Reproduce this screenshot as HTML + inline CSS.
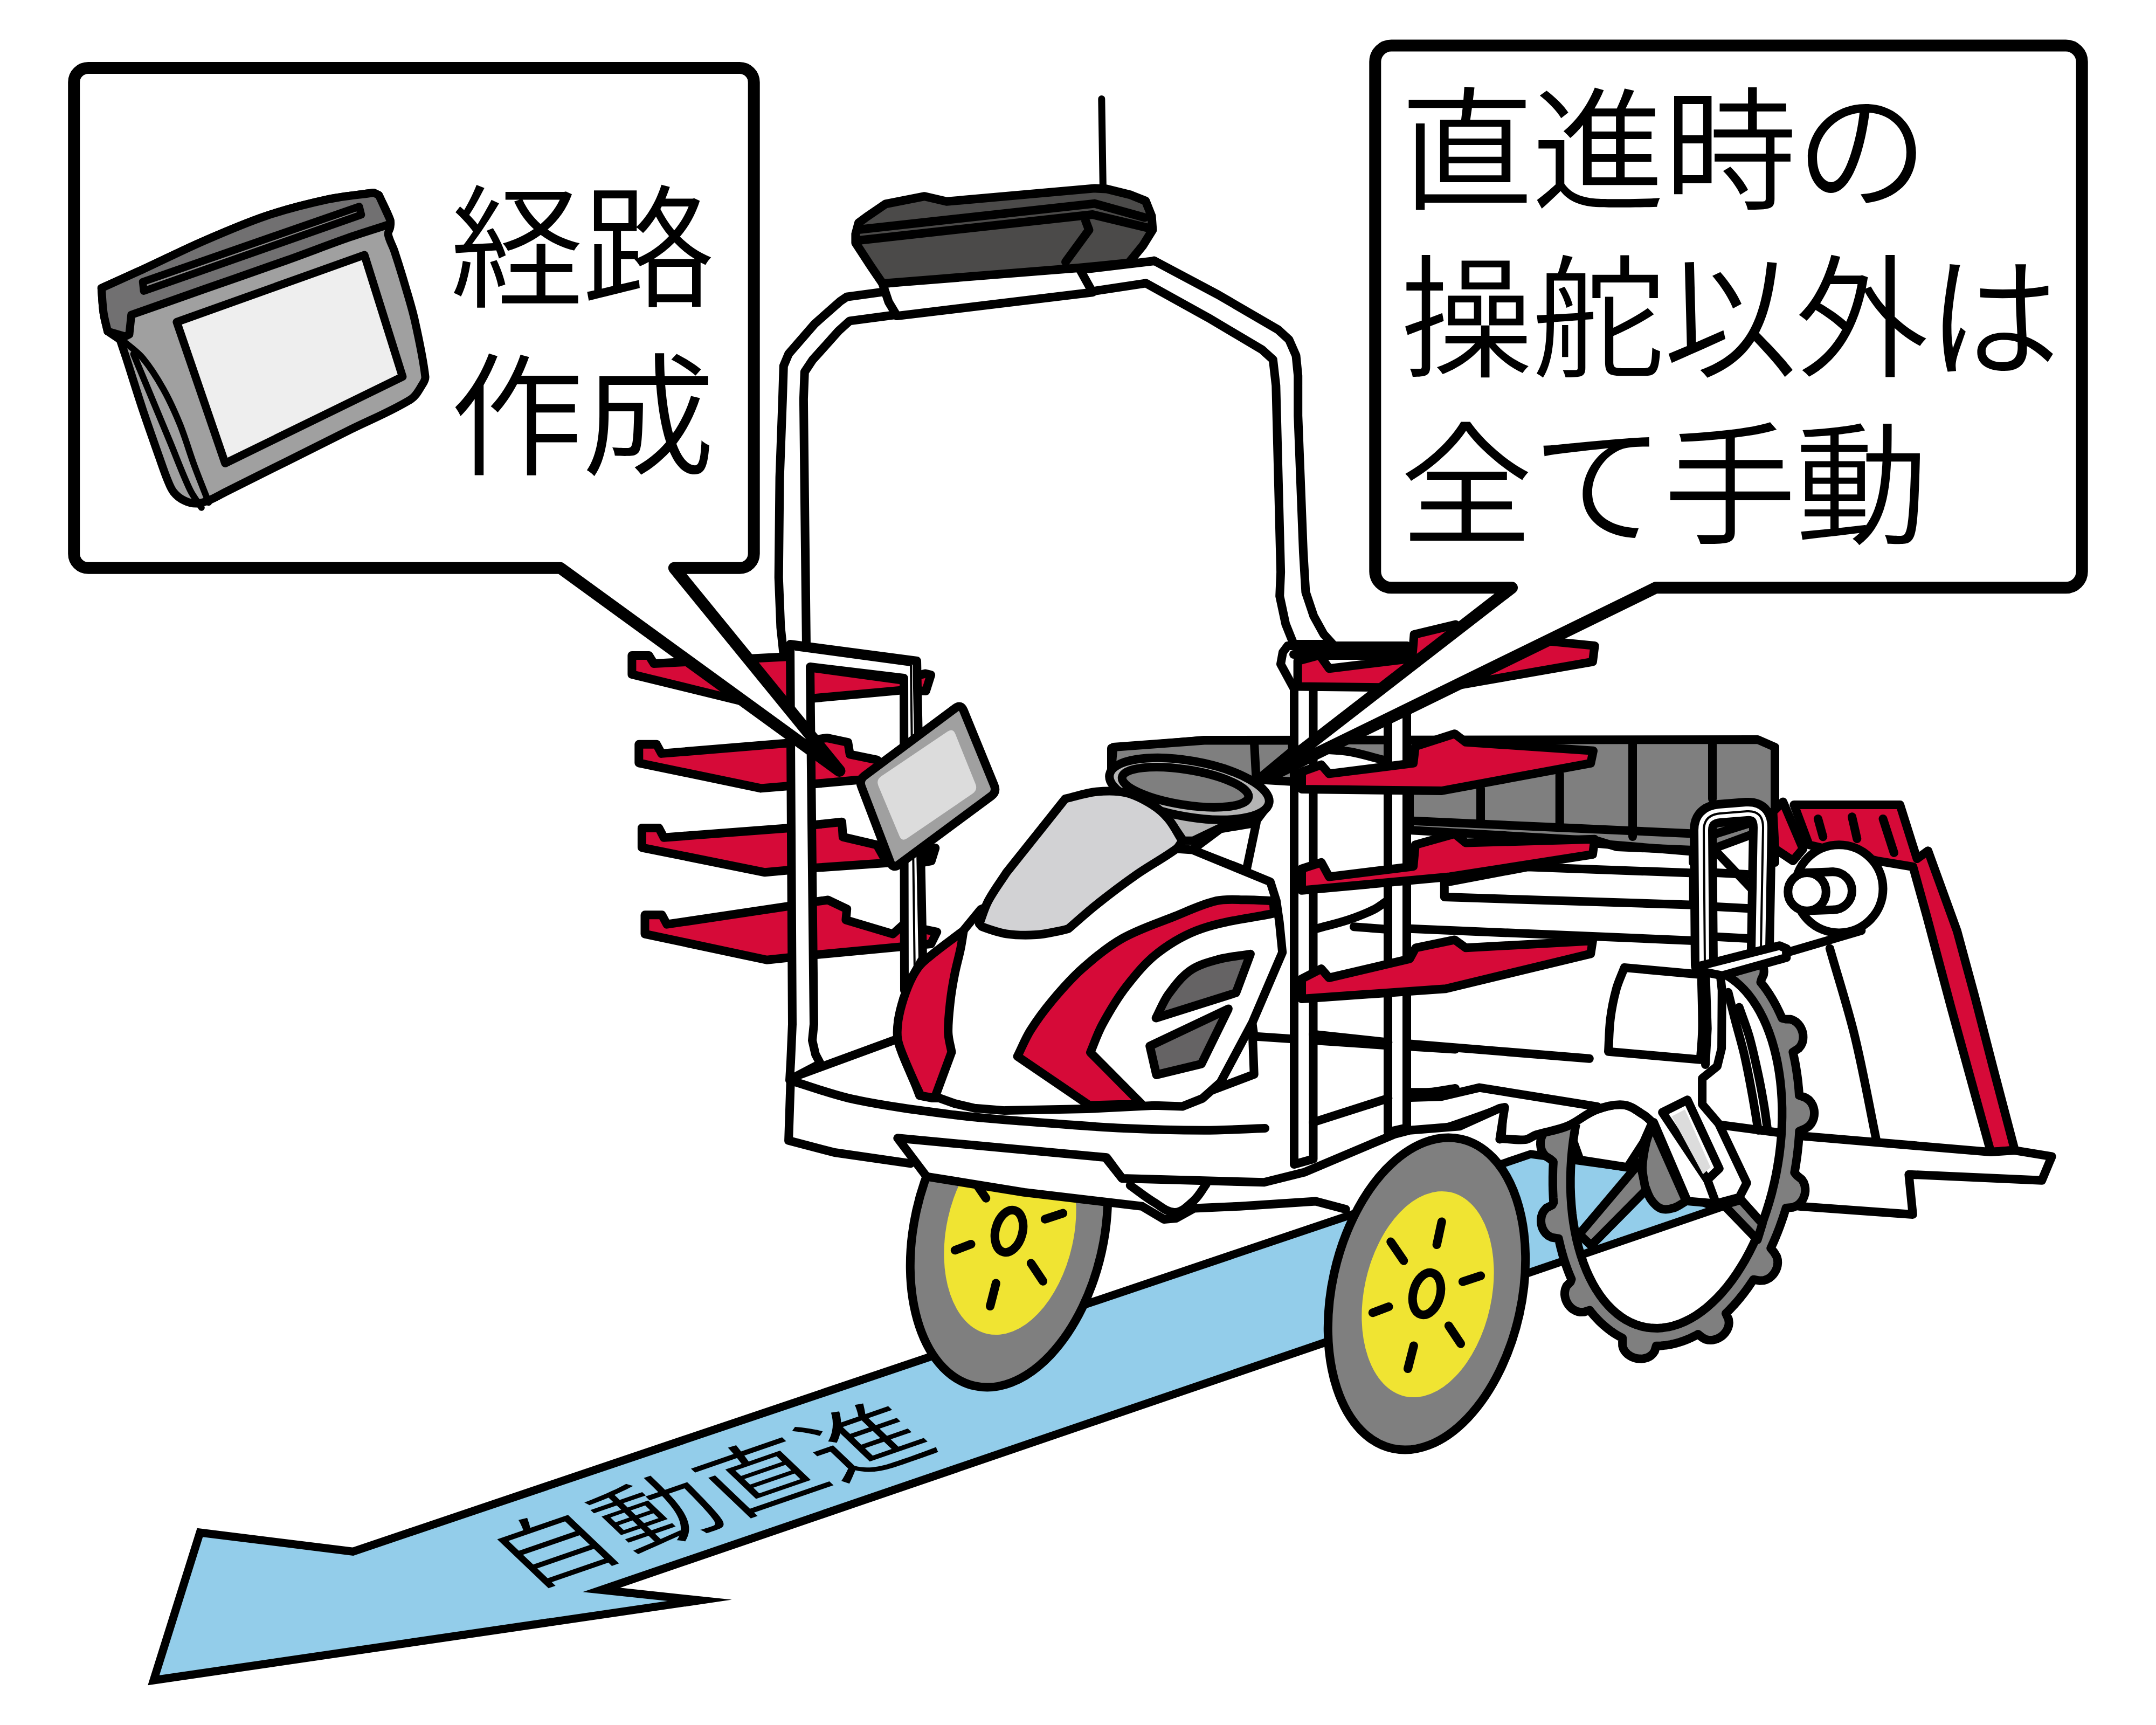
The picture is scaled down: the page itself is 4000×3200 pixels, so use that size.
<!DOCTYPE html>
<html lang="ja"><head><meta charset="utf-8"><title>自動直進</title>
<style>
html,body{margin:0;padding:0;background:#fff;}
svg{display:block;}
text{font-family:"Liberation Sans","Noto Sans CJK JP",sans-serif;fill:#000;}
</style></head><body>
<svg xmlns="http://www.w3.org/2000/svg" width="4000" height="3200" viewBox="0 0 4000 3200">
<rect width="4000" height="3200" fill="#fff"/>
<g id="arrow">
<path d="M285,3117 L371,2843 L654.7,2878.3 L2840,2141 L3019,2165.5 L3185,2242 L1115.7,2949.3 L1298,2968.7 Z" fill="#93cdea" stroke="#000" stroke-width="15" stroke-linejoin="miter" stroke-miterlimit="20"/>
<text transform="matrix(0.934 -0.322 0.593 0.566 976 2948)" font-size="206" font-weight="350" x="0" y="0">自動直進</text>
</g>
<g id="tray">
<path d="M2062,1388 L2234,1373 L3261,1372 L3293,1386 L3293,1600 L3141,1600 L3141,1577 L3000,1571 L2964,1560 L2615,1540 L2615,1450 L2400,1450 L2062,1430Z" fill="#7f7f7f" stroke="#000" stroke-width="16" stroke-linecap="round" stroke-linejoin="round" />
<path d="M2747,1463 L2747,1523" fill="none" stroke="#000" stroke-width="16" stroke-linecap="round" stroke-linejoin="round" />
<path d="M2893.7,1437 L2893.7,1530" fill="none" stroke="#000" stroke-width="16" stroke-linecap="round" stroke-linejoin="round" />
<path d="M3029,1378 L3029,1552" fill="none" stroke="#000" stroke-width="16" stroke-linecap="round" stroke-linejoin="round" />
<path d="M3177,1381 L3177,1482" fill="none" stroke="#000" stroke-width="16" stroke-linecap="round" stroke-linejoin="round" />
<path d="M2609.3,1522.3 L3141.7,1546.4" fill="none" stroke="#000" stroke-width="16" stroke-linecap="round" stroke-linejoin="round" />
<path d="M2963.6,1564.9 L3141.7,1579.8" fill="none" stroke="#000" stroke-width="16" stroke-linecap="round" stroke-linejoin="round" />
</g>
<g id="planter">
<path d="M3289.4,1505.9 L3308,1487.4 L3345.1,1574.6 L3326.5,1596.8 L3293.1,1574.6Z" fill="#d60a38" stroke="#000" stroke-width="16" stroke-linecap="round" stroke-linejoin="round" />
<path d="M3290,1790 L3330,1640 L3549,1608 L3619.3,1867 L3693.5,2137.1 L3482,2119.3 L3322.4,2104.5 L3250,2090Z" fill="#fff" stroke="none" stroke-width="0" stroke-linecap="round" stroke-linejoin="round" />
<path d="M3394.8,1759.4 C3410.3,1813.8 3427.9,1867.6 3441.2,1922.6 C3457,1987.7 3468.4,2053.7 3482,2119.3" fill="none" stroke="#000" stroke-width="16" stroke-linecap="round" stroke-linejoin="round" />
<path d="M3328.4,1492.9 L3525,1492.9 L3556.6,1593.1 L3577,1578.3 L3630.8,1726.7 L3663.8,1848.4 L3697.2,1978.3 L3738,2133.4 L3693.5,2137.1 L3619.3,1867 L3574.8,1700 L3549.2,1608 L3482.4,1596.8 L3356.2,1567.2Z" fill="#d60a38" stroke="#000" stroke-width="16" stroke-linecap="round" stroke-linejoin="round" />
<path d="M3372.9,1518.9 L3382.2,1552.3" fill="none" stroke="#000" stroke-width="16" stroke-linecap="round" stroke-linejoin="round" />
<path d="M3436,1515.2 L3445.3,1556" fill="none" stroke="#000" stroke-width="16" stroke-linecap="round" stroke-linejoin="round" />
<path d="M3493.5,1518.9 L3513.9,1582" fill="none" stroke="#000" stroke-width="16" stroke-linecap="round" stroke-linejoin="round" />
<path d="M3311.3,2104.5 L3329.9,2106.3 L3693.5,2137.1 L3738,2134.1 L3806.7,2145.3 L3788.1,2189.8 L3541.4,2178.7 L3548.8,2252.9 L3341,2238 L3311.3,2234.3Z" fill="#fff" stroke="#000" stroke-width="16" stroke-linecap="round" stroke-linejoin="round" />
<path d="M3186,2086 L3322,2104" fill="none" stroke="#000" stroke-width="16" stroke-linecap="round" stroke-linejoin="round" />
<ellipse cx="3411.9" cy="1648.8" rx="81.6" ry="81.6" transform="rotate(0 3411.9 1648.8)" fill="#fff" stroke="#000" stroke-width="16"/>
<ellipse cx="3400.7" cy="1652.5" rx="35.3" ry="35.3" transform="rotate(0 3400.7 1652.5)" fill="#fff" stroke="#000" stroke-width="16"/>
<path d="M3352.5,1619.1 L3400.7,1617.3 L3400.7,1687.8 L3352.5,1689.6Z" fill="#fff" stroke="none" stroke-width="0" stroke-linecap="round" stroke-linejoin="round" />
<path d="M3352.5,1619.1 L3400.7,1617.3" fill="none" stroke="#000" stroke-width="16" stroke-linecap="round" stroke-linejoin="round" />
<path d="M3352.5,1689.6 L3400.7,1687.8" fill="none" stroke="#000" stroke-width="16" stroke-linecap="round" stroke-linejoin="round" />
<ellipse cx="3352.5" cy="1654.4" rx="35.3" ry="35.3" transform="rotate(0 3352.5 1654.4)" fill="#fff" stroke="#000" stroke-width="16"/>
<path d="M3293.1,1574.6 L3326.5,1596.8 L3345.1,1574.6" fill="none" stroke="#000" stroke-width="16" stroke-linecap="round" stroke-linejoin="round" />
</g>
<g id="cagewheel">
<path d="M2850,2105.2 C2869.3,2099.8 2889.5,2096.7 2908,2089 C2926.8,2081.1 2942.2,2066.1 2961.3,2058.8 C2977.5,2052.7 2995.1,2047.8 3012.3,2049.6 C3026.1,2051 3037.6,2060.9 3049.4,2068.1 C3055.5,2071.8 3060.3,2077.4 3065.7,2082 L3049.4,2119.1 L3019.3,2165.5 L2931.2,2151.6 L2919.6,2119.1 L2850,2105.2Z" fill="#fff" stroke="#000" stroke-width="16" stroke-linecap="round" stroke-linejoin="round" />
<path d="M3331,2165.6 L3331.8,2160.8 L3332.5,2156 L3333.2,2151.2 L3333.9,2146.4 L3334.5,2141.6 L3335.1,2136.8 L3335.6,2131.9 L3336.1,2127.1 L3336.6,2122.3 L3337,2117.5 L3337.4,2112.7 L3337.8,2107.9 L3338.1,2103.1 L3338.3,2098.3 L3348.9,2093.9 L3356,2089.3 L3360.2,2084.5 L3363,2079.6 L3364.8,2074.7 L3365.8,2069.7 L3366.1,2064.7 L3365.8,2059.8 L3364.7,2054.9 L3362.9,2050 L3360.1,2045.2 L3356.1,2040.5 L3349.4,2036 L3338,2032 L3337.7,2027.3 L3337.4,2022.7 L3337,2018.1 L3336.5,2013.5 L3336.1,2009 L3335.6,2004.4 L3335,1999.9 L3334.4,1995.4 L3333.8,1991 L3333.1,1986.5 L3332.4,1982.1 L3331.7,1977.7 L3330.9,1973.3 L3330.1,1968.9 L3329.2,1964.6 L3328.3,1960.3 L3327.4,1956.1 L3326.4,1951.8 L3337.2,1944.8 L3341.6,1939.1 L3343.9,1933.9 L3345.1,1928.9 L3345.4,1924.1 L3345.2,1919.5 L3344.4,1915.1 L3343,1910.8 L3341.2,1906.8 L3338.9,1902.9 L3336,1899.3 L3332.4,1896 L3328,1893.1 L3322.2,1890.8 L3312.3,1890.4 L3306.1,1888.7 L3304.5,1885.1 L3302.9,1881.5 L3301.3,1877.9 L3299.6,1874.4 L3297.9,1871 L3296.2,1867.6 L3294.4,1864.2 L3292.6,1860.9 L3290.8,1857.6 L3288.9,1854.4 L3287,1851.2 L3285.1,1848.1 L3283.2,1845 L3281.2,1842 L3279.2,1839 L3277.1,1836 L3275.1,1833.1 L3273,1830.3 L3270.8,1827.5 L3268.7,1824.8 L3266.5,1822.1 L3268.2,1816.2 L3272,1808.2 L3272.7,1802.6 L3272.4,1797.9 L3271.4,1793.7 L3270,1790 L3268.2,1786.5 L3266.1,1783.3 L3263.6,1780.4 L3261,1777.8 L3258.1,1775.5 L3255,1773.5 L3251.7,1771.8 L3248.2,1770.4 L3244.5,1769.3 L3240.6,1768.8 L3236.4,1768.7 L3231.9,1769.4 L3226.8,1771.3 L3219.5,1777.2 L3215.2,1778.6 L3212.5,1777.2 L3209.9,1775.8 L3207.1,1774.5 L3204.4,1773.2 L3201.7,1772 L3198.9,1770.9 L3196.1,1769.8 L3193.4,1768.8 L3190.6,1767.9 L3187.7,1767 L3184.9,1766.2 L3182.1,1765.4 L3179.2,1764.7 L3176.4,1764.1 L3173.5,1763.5 L3170.6,1763 L3167.7,1762.5 L3164.8,1762.1 L3161.9,1761.8 L3158.9,1761.6 L3156,1761.4 L3153.1,1761.2 L3150.1,1761.2 L3147.2,1761.2 L3144.2,1761.2 L3141.2,1761.3 L3138.3,1761.5 L3134.4,1752.8 L3130.7,1747.8 L3126.9,1744.7 L3123.2,1742.6 L3119.4,1741.2 L3115.7,1740.4 L3112,1739.9 L3108.3,1739.9 L3104.6,1740.2 L3101.1,1740.8 L3097.6,1741.8 L3094.2,1743.2 L3090.9,1744.8 L3087.7,1746.9 L3084.7,1749.3 L3081.9,1752.1 L3079.4,1755.5 L3077.3,1759.6 L3075.8,1764.8 L3075.9,1773 L3075.5,1779.7 L3072.5,1781.3 L3069.6,1782.9 L3066.6,1784.5 L3063.7,1786.3 L3060.7,1788 L3057.8,1789.9 L3054.9,1791.8 L3052,1793.7 L3049.1,1795.7 L3046.2,1797.8 L3043.3,1799.9 L3040.5,1802.1 L3037.6,1804.3 L3034.8,1806.6 L3031.9,1809 L3029.1,1811.4 L3026.3,1813.8 L3023.5,1816.3 L3020.8,1818.9 L3018,1821.5 L3015.3,1824.2 L3012.6,1826.9 L3004,1824 L2996.1,1822.1 L2990.3,1822.4 L2985.4,1823.6 L2981,1825.4 L2977.1,1827.7 L2973.6,1830.4 L2970.5,1833.5 L2967.8,1836.9 L2965.5,1840.7 L2963.6,1844.8 L2962.2,1849.3 L2961.5,1854.2 L2961.7,1859.8 L2963.4,1866.3 L2971.6,1877.2 L2969.2,1880.7 L2966.8,1884.3 L2964.5,1887.9 L2962.2,1891.5 L2959.9,1895.2 L2957.7,1899 L2955.4,1902.7 L2953.2,1906.6 L2951.1,1910.4 L2948.9,1914.3 L2946.8,1918.2 L2944.7,1922.2 L2942.6,1926.2 L2940.6,1930.2 L2938.6,1934.3 L2936.6,1938.4 L2934.7,1942.5 L2932.8,1946.7 L2925.2,1948.4 L2915,1949 L2908.8,1951.6 L2904.2,1954.9 L2900.4,1958.6 L2897.4,1962.7 L2895.1,1967.1 L2893.3,1971.7 L2892.2,1976.5 L2891.8,1981.6 L2892.2,1987 L2893.7,1992.7 L2896.9,1998.9 L2907.3,2007.4 L2907.8,2012.5 L2906.4,2017.1 L2905.1,2021.7 L2903.8,2026.3 L2902.5,2031 L2901.2,2035.6 L2900,2040.3 L2898.8,2045 L2897.7,2049.6 L2896.6,2054.4 L2895.5,2059.1 L2894.4,2063.8 L2893.4,2068.6 L2892.5,2073.3 L2891.6,2078.1 L2890.7,2082.8 L2889.8,2087.6 L2877.9,2090.6 L2870.7,2094.4 L2866,2098.8 L2862.8,2103.4 L2860.5,2108.2 L2858.9,2113.1 L2858.1,2118.1 L2858,2123.2 L2858.6,2128.3 L2860.1,2133.5 L2862.7,2138.8 L2866.8,2144.1 L2875.3,2149.6 L2881.9,2154.9 L2881.7,2159.7 L2881.4,2164.5 L2881.2,2169.3 L2881.1,2174.1 L2881,2178.9 L2880.9,2183.6 L2880.9,2188.4 L2880.9,2193.1 L2880.9,2197.9 L2881,2202.6 L2881.1,2207.3 L2881.3,2212 L2881.5,2216.7 L2881.7,2221.4 L2882,2226 L2882.3,2230.7 L2879.7,2235.5 L2868.7,2241.2 L2864.2,2246.4 L2861.5,2251.4 L2859.9,2256.4 L2859.1,2261.3 L2859,2266.2 L2859.5,2270.9 L2860.6,2275.5 L2862.4,2280 L2864.9,2284.4 L2868.1,2288.5 L2872.6,2292.4 L2879.2,2295.7 L2891.7,2297.7 L2892.6,2301.9 L2893.6,2306.2 L2894.6,2310.4 L2895.6,2314.5 L2896.7,2318.7 L2897.8,2322.8 L2898.9,2326.9 L2900.1,2330.9 L2901.3,2334.9 L2902.6,2338.9 L2903.9,2342.8 L2905.2,2346.7 L2906.6,2350.6 L2908,2354.4 L2909.4,2358.2 L2910.9,2361.9 L2912.4,2365.7 L2913.9,2369.3 L2915.5,2372.9 L2913.7,2378.1 L2906.4,2385.8 L2904,2391.5 L2903.1,2396.5 L2902.9,2401.2 L2903.5,2405.6 L2904.5,2409.7 L2905.9,2413.6 L2907.8,2417.2 L2910,2420.7 L2912.6,2423.8 L2915.5,2426.7 L2918.9,2429.2 L2922.7,2431.4 L2927,2433.1 L2932.2,2434.1 L2938.9,2433.8 L2949.2,2430.5 L2951.3,2433.2 L2953.5,2435.9 L2955.7,2438.5 L2957.9,2441.1 L2960.2,2443.6 L2962.5,2446.1 L2964.8,2448.5 L2967.1,2450.9 L2969.4,2453.2 L2971.8,2455.4 L2974.2,2457.6 L2976.7,2459.7 L2979.1,2461.8 L2981.6,2463.8 L2984.1,2465.8 L2986.6,2467.7 L2989.1,2469.6 L2991.7,2471.3 L2994.3,2473.1 L2996.9,2474.8 L2999.5,2476.4 L3002.1,2477.9 L3004.8,2479.4 L3007.5,2480.8 L3010.1,2482.2 L3010.1,2489.3 L3010.2,2496.7 L3011.7,2501.6 L3013.8,2505.5 L3016.2,2508.7 L3018.9,2511.4 L3021.8,2513.7 L3024.8,2515.7 L3028,2517.3 L3031.3,2518.6 L3034.6,2519.6 L3038.1,2520.3 L3041.6,2520.6 L3045.2,2520.7 L3048.7,2520.4 L3052.3,2519.7 L3055.9,2518.6 L3059.5,2517 L3063,2514.7 L3066.4,2511.5 L3069.8,2506.6 L3072.8,2496.8 L3075.8,2496.8 L3078.8,2496.7 L3081.7,2496.5 L3084.7,2496.2 L3087.7,2495.9 L3090.7,2495.6 L3093.7,2495.1 L3096.7,2494.6 L3099.7,2494.1 L3102.7,2493.4 L3105.7,2492.8 L3108.7,2492 L3111.7,2491.2 L3114.7,2490.3 L3117.7,2489.4 L3120.7,2488.4 L3123.7,2487.4 L3126.7,2486.2 L3129.6,2485.1 L3132.6,2483.8 L3135.6,2482.5 L3138.6,2481.2 L3141.6,2479.7 L3144.5,2478.3 L3147.5,2476.7 L3150.4,2475.1 L3157.8,2481 L3163.9,2484.5 L3169,2485.8 L3173.7,2486.1 L3178,2485.7 L3182,2484.8 L3185.9,2483.5 L3189.5,2481.8 L3192.9,2479.7 L3196,2477.2 L3198.9,2474.4 L3201.5,2471.3 L3203.8,2467.7 L3205.7,2463.8 L3207.1,2459.3 L3207.8,2454 L3207,2447.4 L3202,2436.5 L3204.7,2433.8 L3207.4,2431.1 L3210.2,2428.3 L3212.8,2425.5 L3215.5,2422.6 L3218.2,2419.7 L3220.8,2416.7 L3223.4,2413.7 L3226,2410.6 L3228.6,2407.5 L3231.1,2404.3 L3233.7,2401.1 L3236.2,2397.8 L3238.7,2394.5 L3241.2,2391.2 L3243.6,2387.8 L3246,2384.3 L3248.4,2380.8 L3250.8,2377.3 L3253.2,2373.7 L3264.2,2375.7 L3272,2375.3 L3277.7,2373.5 L3282.4,2371 L3286.3,2367.9 L3289.6,2364.5 L3292.4,2360.7 L3294.7,2356.6 L3296.5,2352.2 L3297.7,2347.5 L3298.2,2342.4 L3297.9,2337 L3296.2,2330.9 L3291.8,2323.6 L3285.3,2315.5 L3287.2,2311.3 L3289.1,2307.1 L3291,2302.9 L3292.8,2298.6 L3294.6,2294.3 L3296.4,2290 L3298.1,2285.7 L3299.8,2281.3 L3301.5,2276.9 L3303.1,2272.5 L3304.7,2268 L3306.2,2263.6 L3307.8,2259.1 L3309.3,2254.6 L3310.7,2250 L3312.2,2245.5 L3313.6,2240.9 L3326.5,2239.7 L3333.7,2236.6 L3338.7,2232.8 L3342.4,2228.6 L3345.2,2224.2 L3347.2,2219.5 L3348.6,2214.6 L3349.3,2209.6 L3349.2,2204.4 L3348.3,2199.1 L3346.4,2193.5 L3342.7,2187.7 L3334.2,2181 L3329.3,2175.2 L3330.2,2170.4Z M3298.4,2160.2 L3301.1,2142.7 L3303.2,2125.2 L3304.8,2107.6 L3305.8,2090.2 L3306.3,2072.8 L3306.3,2055.6 L3305.7,2038.6 L3304.6,2021.9 L3303,2005.4 L3300.8,1989.3 L3298.1,1973.5 L3294.9,1958.2 L3291.2,1943.4 L3287,1929.1 L3282.3,1915.3 L3277.1,1902.1 L3271.5,1889.5 L3265.4,1877.6 L3258.9,1866.3 L3252,1855.8 L3244.7,1846 L3237.1,1837.1 L3229.1,1828.9 L3220.7,1821.5 L3212.1,1815 L3203.2,1809.3 L3194,1804.5 L3184.6,1800.6 L3175,1797.6 L3165.2,1795.5 L3155.3,1794.4 L3145.2,1794.1 L3135,1794.8 L3124.8,1796.3 L3114.6,1798.8 L3104.3,1802.2 L3094,1806.5 L3083.8,1811.7 L3073.6,1817.7 L3063.6,1824.6 L3053.7,1832.3 L3043.9,1840.9 L3034.3,1850.2 L3024.9,1860.3 L3015.8,1871.1 L3006.9,1882.7 L2998.3,1894.9 L2990,1907.8 L2982,1921.2 L2974.4,1935.3 L2967.2,1949.8 L2960.3,1964.9 L2953.9,1980.4 L2947.8,1996.3 L2942.3,2012.6 L2937.2,2029.2 L2932.5,2046 L2928.4,2063.1 L2924.7,2080.4 L2921.6,2097.8 L2918.9,2115.3 L2916.8,2132.8 L2915.2,2150.4 L2914.2,2167.8 L2913.7,2185.2 L2913.7,2202.4 L2914.3,2219.4 L2915.4,2236.1 L2917,2252.6 L2919.2,2268.7 L2921.9,2284.5 L2925.1,2299.8 L2928.8,2314.6 L2933,2328.9 L2937.7,2342.7 L2942.9,2355.9 L2948.5,2368.5 L2954.6,2380.4 L2961.1,2391.7 L2968,2402.2 L2975.3,2412 L2982.9,2420.9 L2990.9,2429.1 L2999.3,2436.5 L3007.9,2443 L3016.8,2448.7 L3026,2453.5 L3035.4,2457.4 L3045,2460.4 L3054.8,2462.5 L3064.7,2463.6 L3074.8,2463.9 L3085,2463.2 L3095.2,2461.7 L3105.4,2459.2 L3115.7,2455.8 L3126,2451.5 L3136.2,2446.3 L3146.4,2440.3 L3156.4,2433.4 L3166.3,2425.7 L3176.1,2417.1 L3185.7,2407.8 L3195.1,2397.7 L3204.2,2386.9 L3213.1,2375.3 L3221.7,2363.1 L3230,2350.2 L3238,2336.8 L3245.6,2322.7 L3252.8,2308.2 L3259.7,2293.1 L3266.1,2277.6 L3272.2,2261.7 L3277.7,2245.4 L3282.8,2228.8 L3287.5,2212 L3291.6,2194.9 L3295.3,2177.6Z" fill="#7f7f7f" fill-rule="evenodd" stroke="#000" stroke-width="16" stroke-linejoin="round"/>
<path d="M3206.3,1840.8 C3210.6,1858.1 3214.8,1875.5 3219.3,1892.8 C3224.7,1913.8 3231.1,1934.6 3236,1955.8 C3241.6,1980.4 3246.3,2005.2 3250.8,2030.1 C3254.9,2052.3 3258.3,2074.6 3262,2096.8" fill="none" stroke="#000" stroke-width="16" stroke-linecap="round" stroke-linejoin="round" />
<path d="M3226.7,1868.6 C3232.9,1886.6 3240.1,1904.2 3245.3,1922.4 C3251.9,1945.7 3256.9,1969.3 3262,1992.9 C3266.2,2012.6 3269.8,2032.5 3273.1,2052.3 C3275.6,2067.1 3277.3,2082 3279.4,2096.8" fill="none" stroke="#000" stroke-width="16" stroke-linecap="round" stroke-linejoin="round" />
<path d="M3042.5,2156.3 L3054.1,2207.3 L2952,2310.5 L2930,2289.6Z" fill="#7f7f7f" stroke="#000" stroke-width="16" stroke-linecap="round" stroke-linejoin="round" />
<path d="M3197.9,2235.1 L3230.3,2225.8 L3269.8,2269.9 L3260.5,2300Z" fill="#7f7f7f" stroke="#000" stroke-width="16" stroke-linecap="round" stroke-linejoin="round" />
</g>
<g id="rollbar">
<path d="M1496,1224 L1455,1224 L1454,1215.8 L1448.4,1163.8 L1444.7,1071.1 L1446.6,885.5 L1451.9,740.1 L1453.8,678.8 L1463.1,656.6 L1511.3,600.9 L1559.6,558.3 L1570.7,550.8 L1637.5,541.6 L2027.1,497.8 L2142.1,484 L2141,483.5 L2259.7,546.6 L2371.1,611.5 L2391.5,630.1 L2404.5,659.7 L2408.2,696.8 L2408.2,771.1 L2418,1024.2 L2422.4,1098.4 L2437.3,1142.9 L2455.8,1176.3 L2472.5,1194.9 L2400.2,1194.9 L2385.3,1157.8 L2374.2,1105.8 L2376.1,1061.3 L2367.3,715.4 L2361.8,667.2 L2341.4,648.6 L2241.2,589.2 L2126.2,525.4 L2027.1,540.4 L1659.7,584.2 L1576.3,595.4 L1555.8,613.9 L1507.6,667.7 L1492.8,690 L1490.9,740.1 L1492.9,922.6 L1495.9,1189.8 L1496,1224Z" fill="#fff" stroke="#000" stroke-width="16" stroke-linecap="round" stroke-linejoin="round" />
</g>
<g id="gps">
<path d="M2043.8,183.5 L2046.4,348.6" fill="none" stroke="#000" stroke-width="13" stroke-linecap="round" stroke-linejoin="round" />
<path d="M1637.5,526.7 L1993.7,482.2 L2027.1,542.3 L1664.2,586.1 L1648.6,560.1Z" fill="#fff" stroke="#000" stroke-width="16" stroke-linecap="round" stroke-linejoin="round" />
<path d="M1587.4,434 L1592.9,413.5 L1607.8,402.4 L1643,378.3 L1715.4,364.2 L1756.2,373.8 L2030.8,349.4 L2053.1,350.5 L2097.6,361.6 L2125.4,372.7 L2136.5,400.6 L2138.4,426.5 L2119.9,456.2 L2093.9,487.8 L2001.1,497 L1637.5,526 L1615.2,493.3 L1587.4,450.6Z" fill="#4b4a49" stroke="#000" stroke-width="16" stroke-linecap="round" stroke-linejoin="round" />
<path d="M1594.8,425.8 L2030.8,377.6 L2123.6,403.5" fill="none" stroke="#000" stroke-width="16" stroke-linecap="round" stroke-linejoin="round" />
<path d="M1594.8,445.8 L2027.1,398 L2127.3,422.1" fill="none" stroke="#000" stroke-width="16" stroke-linecap="round" stroke-linejoin="round" />
<path d="M2014.1,409.8 L2020.4,426.5 L1977,485.9" fill="none" stroke="#000" stroke-width="16" stroke-linecap="round" stroke-linejoin="round" />
</g>
<g id="lwheel">
<ellipse cx="1872" cy="2284" rx="176" ry="294" transform="rotate(12.5 1872 2284)" fill="#7f7f7f" stroke="#000" stroke-width="16"/>
<ellipse cx="1874" cy="2285" rx="118" ry="194" transform="rotate(12.5 1874 2285)" fill="#f0e432" stroke="none" stroke-width="0"/>
<ellipse cx="1872" cy="2284" rx="25" ry="40" transform="rotate(15 1872 2284)" fill="none" stroke="#000" stroke-width="16"/>
<path d="M1899.8,2150.4 L1890.6,2193.1" fill="none" stroke="#000" stroke-width="16" stroke-linecap="round" stroke-linejoin="round" />
<path d="M1805.2,2187.5 L1829.3,2222.8" fill="none" stroke="#000" stroke-width="16" stroke-linecap="round" stroke-linejoin="round" />
<path d="M1938.8,2261.7 L1972.2,2250.6" fill="none" stroke="#000" stroke-width="16" stroke-linecap="round" stroke-linejoin="round" />
<path d="M1771.8,2319.3 L1801.5,2308.1" fill="none" stroke="#000" stroke-width="16" stroke-linecap="round" stroke-linejoin="round" />
<path d="M1912.8,2343.4 L1935.1,2376.8" fill="none" stroke="#000" stroke-width="16" stroke-linecap="round" stroke-linejoin="round" />
<path d="M1847.9,2380.5 L1837,2423.1" fill="none" stroke="#000" stroke-width="16" stroke-linecap="round" stroke-linejoin="round" />
</g>
<g id="platform">
<path d="M1466.8,2004.5 L1479.8,1995.2 L1667.2,1926.5 L2300,1900 L2323,1896.5 L2326.7,1922.4 L2949.4,1964.9 L2949.4,2085.5 L2586.5,2104.3 L2419.5,2174.8 L2345.3,2193.3 L2081.8,2185.9 L2053.1,2147.3 L1689.4,2158.4 L1548.4,2138 L1463.1,2115.8Z" fill="#fff" stroke="none" stroke-width="0" stroke-linecap="round" stroke-linejoin="round" />
<path d="M1667.2,1926.5 L1479.8,1995.2 L1466.8,2004.5 L1463.1,2115.8 L1548.4,2138 L1689.4,2158.4" fill="none" stroke="#000" stroke-width="16" stroke-linecap="round" stroke-linejoin="round" />
<path d="M2323,1896.5 L2326.7,1922.4 L2949.4,1964.9" fill="none" stroke="#000" stroke-width="16" stroke-linecap="round" stroke-linejoin="round" />
<path d="M1466.8,2004.5 C1506.4,2016.2 1545.1,2031.2 1585.5,2039.7 C1646.8,2052.5 1709,2060.3 1771.1,2068.3 C1813.9,2073.8 1857,2076.7 1900,2080.1 C1961.8,2085 2023.6,2090 2085.5,2093.1 C2135,2095.6 2184.5,2096.8 2234,2096.8 C2271.7,2096.8 2309.4,2094.4 2347.1,2093.1" fill="none" stroke="#000" stroke-width="16" stroke-linecap="round" stroke-linejoin="round" />
<path d="M2323,1896.5 L2326.7,1992.9 L2248.8,2022.6" fill="none" stroke="#000" stroke-width="16" stroke-linecap="round" stroke-linejoin="round" />
</g>
<g id="planter2">
<path d="M2609.3,1670.7 L3141.7,1678.8 L3141.7,1785.7 L3164,1796.8 L3164,2049.2 L3065.7,2082 L3049.4,2068.1 L3012.3,2049.6 L2961.3,2058.8 L2908,2089 L2850,2105.2 L2830.1,2114.1 L2785.5,2112.2 L2789.2,2054.7 L2711.3,2082.6 L2609.3,2097.4Z" fill="#fff" stroke="none" stroke-width="0" stroke-linecap="round" stroke-linejoin="round" />
<path d="M2679.8,1637.3 L2833.8,1608.3 L3141.7,1619.5 L3141.7,1678.8 L2679.8,1664Z" fill="#fff" stroke="#000" stroke-width="16" stroke-linecap="round" stroke-linejoin="round" />
<path d="M2609.3,1722.6 L3141.7,1744.9" fill="none" stroke="#000" stroke-width="16" stroke-linecap="round" stroke-linejoin="round" />
<path d="M2609.3,1936 L2948.8,1963.8" fill="none" stroke="#000" stroke-width="16" stroke-linecap="round" stroke-linejoin="round" />
<path d="M2609.3,2036.2 L2674.2,2034.3 L2744.7,2017.6 L2963.6,2052.9" fill="none" stroke="#000" stroke-width="16" stroke-linecap="round" stroke-linejoin="round" />
<path d="M2609.3,2097.4 C2630.9,2096.2 2652.8,2096.8 2674.2,2093.7 C2687,2091.8 2699.1,2086.7 2711.3,2082.6 C2737.4,2073.7 2763.3,2064 2789.2,2054.7 L2785.5,2112.2 C2800.4,2112.9 2815.3,2115.7 2830.1,2114.1 C2837.3,2113.3 2843.1,2107.5 2850,2105.2 C2869.1,2099.1 2889.5,2096.7 2908,2089 C2926.8,2081.1 2942.2,2066.1 2961.3,2058.8 C2977.5,2052.7 2995.1,2047.8 3012.3,2049.6 C3026.1,2051 3037.6,2060.9 3049.4,2068.1 C3055.5,2071.8 3060.3,2077.4 3065.7,2082" fill="none" stroke="#000" stroke-width="16" stroke-linecap="round" stroke-linejoin="round" />
<path d="M3162.2,1514.8 L3267.9,1507.4 L3267.9,1767.2 L3162.2,1782Z" fill="#fff" stroke="none" stroke-width="0" stroke-linecap="round" stroke-linejoin="round" />
<path d="M3171.4,1514.8 L3256.8,1507.4 L3256.8,1546.4 L3171.4,1574.2Z" fill="#7f7f7f" stroke="none" stroke-width="0" stroke-linecap="round" stroke-linejoin="round" />
<path d="M3178.8,1548.2 L3249.4,1526" fill="none" stroke="#000" stroke-width="16" stroke-linecap="round" stroke-linejoin="round" />
<path d="M3178.8,1574.2 L3249.4,1548.2" fill="none" stroke="#000" stroke-width="16" stroke-linecap="round" stroke-linejoin="round" />
<path d="M3178.8,1574.2 L3249.4,1648.4" fill="none" stroke="#000" stroke-width="16" stroke-linecap="round" stroke-linejoin="round" />
<path d="M3178.8,1618.7 L3249.4,1622.4" fill="none" stroke="#000" stroke-width="16" stroke-linecap="round" stroke-linejoin="round" />
<path d="M3178.8,1681.8 L3249.4,1685.5" fill="none" stroke="#000" stroke-width="16" stroke-linecap="round" stroke-linejoin="round" />
<path d="M3178.8,1737.5 L3249.4,1741.2" fill="none" stroke="#000" stroke-width="16" stroke-linecap="round" stroke-linejoin="round" />
<path d="M3162,1790 L3160,1540 Q3160,1512 3190,1509 L3240,1505 Q3270,1503 3270,1535 L3266,1760" fill="none" stroke="#000" stroke-width="50" stroke-linecap="round" stroke-linejoin="round"/>
<path d="M3162,1790 L3160,1540 Q3160,1512 3190,1509 L3240,1505 Q3270,1503 3270,1535 L3266,1760" fill="none" stroke="#fff" stroke-width="18" stroke-linecap="round" stroke-linejoin="round"/>
<path d="M3162,1790 L3160,1540 Q3160,1512 3190,1509 L3240,1505 Q3270,1503 3270,1535 L3266,1760" fill="none" stroke="#000" stroke-width="4" stroke-linecap="round" stroke-linejoin="round" transform="translate(1,0)"/>
<path d="M3171.1,1788.9 L3191.5,1807.4 L3194.8,1837.1 L3194.1,1944.7 L3185.9,1978.1 L3158.1,2000.4 L3158.1,2048.6 L3188.6,2084.4 L3240.8,2194.5 L3226.9,2221.2 L3184,2232.8 L3130.6,2228.1 L3068,2082 L3154.7,1965.7 L3158.4,1908.2 L3156.6,1808Z" fill="#fff" stroke="none" stroke-width="0" stroke-linecap="round" stroke-linejoin="round" />
<path d="M3171.1,1788.9 L3191.5,1807.4 L3194.8,1837.1 L3194.1,1944.7 L3185.9,1978.1 L3158.1,2000.4 L3158.1,2048.6 L3188.6,2084.4 L3240.8,2194.5 L3226.9,2221.2 L3184,2232.8 L3130.6,2228.1 L3068,2082" fill="none" stroke="#000" stroke-width="16" stroke-linecap="round" stroke-linejoin="round" />
<path d="M3164,1796.8 L3167.7,1908.2 L3164,1975" fill="none" stroke="#000" stroke-width="16" stroke-linecap="round" stroke-linejoin="round" />
<path d="M3167.7,2188.7 L3184,2232.8" fill="none" stroke="#000" stroke-width="16" stroke-linecap="round" stroke-linejoin="round" />
<path d="M3013.7,1795 L3156.6,1808 C3157.2,1841.4 3158.8,1874.8 3158.4,1908.2 C3158.2,1927.4 3156,1946.5 3154.7,1965.7 L2984,1950.8 C2985.3,1930.4 2985.2,1909.9 2987.8,1889.6 C2990.1,1870.8 2993.9,1852.2 2998.9,1834 C3002.6,1820.6 3008.8,1808 3013.7,1795Z" fill="#fff" stroke="#000" stroke-width="16" stroke-linecap="round" stroke-linejoin="round" />
<path d="M3084.2,2063.5 L3130.6,2040.3 L3189.7,2167.8 L3167.7,2188.7Z" fill="#fff" stroke="#000" stroke-width="16" stroke-linecap="round" stroke-linejoin="round" />
<path d="M3101.6,2070.9 L3126,2058.2 L3173.5,2165.5 L3159.6,2178.3Z" fill="#dcdcdc" stroke="none" stroke-width="0" stroke-linecap="round" stroke-linejoin="round" />
<path d="M3065.7,2086.7 L3128.3,2228.1 C3120.6,2232.4 3113.6,2238.4 3105.1,2240.9 C3097.7,2243.1 3089.2,2244.7 3081.9,2242.1 C3074.2,2239.3 3068.2,2232.5 3063.4,2225.8 C3057.9,2218.3 3055.6,2208.8 3051.8,2200.3 C3050.2,2188.7 3046.8,2177.2 3047.1,2165.5 C3047.6,2149.9 3050.5,2134.4 3054.1,2119.1 C3056.7,2108 3061.8,2097.5 3065.7,2086.7Z" fill="#7f7f7f" stroke="#000" stroke-width="16" stroke-linecap="round" stroke-linejoin="round" />
<path d="M3149.2,1793.1 L3301.3,1754.2 L3314.3,1759.7 L3314.3,1776.4 L3195.5,1809.8 L3152.9,1801.3Z" fill="#fff" stroke="#000" stroke-width="16" stroke-linecap="round" stroke-linejoin="round" />
<path d="M3314.3,1767.2 L3453.4,1726.3" fill="none" stroke="#000" stroke-width="16" stroke-linecap="round" stroke-linejoin="round" />
</g>
<g id="rframe">
<path d="M2389,1198 L2380,1210 L2376,1232 L2401,1278 L2401,2160 L2436.5,2150 L2436.5,1216 L2610,1216 L2610,1198Z" fill="#fff" stroke="#000" stroke-width="16" stroke-linecap="round" stroke-linejoin="round" />
<path d="M2575,1216 L2575,2100 L2610,2092 L2610,1198Z" fill="#fff" stroke="#000" stroke-width="16" stroke-linecap="round" stroke-linejoin="round" />
<path d="M2400,1214 L2610,1214" fill="none" stroke="#000" stroke-width="16" stroke-linecap="round" stroke-linejoin="round" />
<path d="M2444.7,1389.7 L2504.1,1394.5 L2567.2,1410.1 L2567.2,1447.2 L2444.7,1447.2Z" fill="#fff" stroke="none" stroke-width="0" stroke-linecap="round" stroke-linejoin="round" />
<path d="M2444.7,1389.7 C2464.5,1391.3 2484.5,1391.3 2504.1,1394.5 C2525.4,1398.1 2546.1,1404.9 2567.2,1410.1" fill="none" stroke="#000" stroke-width="16" stroke-linecap="round" stroke-linejoin="round" />
<path d="M2436.2,1918.7 L2575.3,1933.6" fill="none" stroke="#000" stroke-width="16" stroke-linecap="round" stroke-linejoin="round" />
<path d="M2436.2,2082 L2575.3,2037.5" fill="none" stroke="#000" stroke-width="16" stroke-linecap="round" stroke-linejoin="round" />
<path d="M2610.6,1941 L2700,1946.6" fill="none" stroke="#000" stroke-width="16" stroke-linecap="round" stroke-linejoin="round" />
<path d="M2610.6,2026.3 C2626,2026.1 2641.5,2026.9 2657,2025.6 C2671.4,2024.4 2685.7,2021.2 2700,2018.9" fill="none" stroke="#000" stroke-width="16" stroke-linecap="round" stroke-linejoin="round" />
<path d="M2443.5,1722.6 C2462.8,1717.2 2482.4,1712.7 2501.5,1706.4 C2517.3,1701.1 2532.9,1695.1 2547.9,1687.8 C2556.2,1683.8 2563.3,1677.8 2571.1,1672.8" fill="none" stroke="#000" stroke-width="16" stroke-linecap="round" stroke-linejoin="round" />
<path d="M2511.9,1719.2 L2571.1,1723.8" fill="none" stroke="#000" stroke-width="16" stroke-linecap="round" stroke-linejoin="round" />
</g>
<g id="rshelves">
<path d="M2407.6,1226.4 L2448.4,1215.3 L2465.9,1240.2 L2619.9,1221.6 L2623.6,1177.1 L2700.7,1158.5 L2721.2,1174.5 L2958.6,1197.9 L2954.9,1227.6 L2674.8,1276.5 L2407.6,1273.6Z" fill="#d60a38" stroke="#000" stroke-width="16" stroke-linecap="round" stroke-linejoin="round" />
<path d="M2415,1431.7 L2451.4,1418.7 L2465.9,1435.4 L2622.1,1415.8 L2625.8,1384.6 L2698.9,1361.2 L2719.3,1376.8 L2956,1392.8 L2951.2,1415.8 L2674.8,1467 L2415,1464Z" fill="#d60a38" stroke="#000" stroke-width="16" stroke-linecap="round" stroke-linejoin="round" />
<path d="M2415,1611.7 L2451.4,1599.8 L2465.9,1626.5 L2622.1,1607.2 L2625.8,1567.2 L2698.9,1546.8 L2719.3,1563.5 L2958.6,1556.8 L2954.9,1585 L2689.6,1626.5 L2415,1651.8Z" fill="#d60a38" stroke="#000" stroke-width="16" stroke-linecap="round" stroke-linejoin="round" />
<path d="M2415,1815.8 L2451.4,1797.2 L2465.9,1813.9 L2615.4,1778.7 L2626.5,1758.3 L2698.9,1743.4 L2719.3,1758.3 L2954.9,1745.3 L2951.2,1769.4 L2682.2,1834.3 L2415,1852.9Z" fill="#d60a38" stroke="#000" stroke-width="16" stroke-linecap="round" stroke-linejoin="round" />
</g>
<g id="seat">
<path d="M2065.5,1386.1 L2234.3,1373.5 L2397.6,1373.5 L2397.6,1392.8 L2341.9,1439.1 L2327.1,1455.8 L2071.1,1455.8 L2061.8,1428Z" fill="#7f7f7f" stroke="#000" stroke-width="16" stroke-linecap="round" stroke-linejoin="round" />
<path d="M2327.1,1379.8 L2330.8,1448.4" fill="none" stroke="#000" stroke-width="16" stroke-linecap="round" stroke-linejoin="round" />
<path d="M2264,1537.5 L2330.8,1526.3 L2312.2,1615.4 L2212.1,1576.4Z" fill="#fff" stroke="#000" stroke-width="16" stroke-linecap="round" stroke-linejoin="round" />
</g>
<g id="body">
<path d="M1819.3,1687.2 L1785.9,1728 L1711.7,1785.5 L1693.1,1811.5 L1676.4,1852.3 L1666.4,1893.1 L1665.3,1926.5 L1674.6,1956.2 L1696.8,2008.2 L1706.1,2032.3 L1730.2,2037.1 L1743.2,2037.1 L1771.1,2047.1 L1808.2,2055.7 L1863.8,2060.1 L2016,2057.1 L2142.1,2050.8 L2193.7,2052.5 L2230.8,2037.7 L2264.2,2008 L2323.6,1896.7 L2379.2,1766.8 L2373.7,1711.1 L2367.9,1671.1 L2356.8,1635.8 L2212.1,1576.4 L2182.4,1574.6 L2034,1596.8Z" fill="#fff" stroke="#000" stroke-width="16" stroke-linecap="round" stroke-linejoin="round" />
<path d="M1787.8,1726.2 C1762.4,1745.9 1735.6,1764 1711.7,1785.5 C1703.8,1792.7 1698.1,1802.1 1693.1,1811.5 C1686.3,1824.5 1681,1838.3 1676.4,1852.3 C1672.1,1865.6 1668.5,1879.3 1666.4,1893.1 C1664.8,1904.2 1663.9,1915.5 1665.3,1926.5 C1666.6,1936.8 1670.8,1946.5 1674.6,1956.2 C1681.4,1973.8 1689.3,1990.9 1696.8,2008.2 C1700.4,2016.3 1704.3,2024.2 1708,2032.3 L1734,2037.1 L1765.5,1951.8 C1763.4,1939.6 1759.5,1927.7 1759.2,1915.4 C1758.7,1896.8 1760.9,1878.2 1762.9,1859.7 C1764.8,1842.3 1767.7,1825 1771.1,1807.8 C1774.2,1791.6 1778.9,1775.7 1782.2,1759.6 C1784.5,1748.5 1785.9,1737.3 1787.8,1726.2Z" fill="#d60a38" stroke="#000" stroke-width="16" stroke-linecap="round" stroke-linejoin="round" />
<path d="M2362.3,1671.1 C2345.6,1670.4 2329,1669.2 2312.2,1669.2 C2293.7,1669.2 2274.7,1666.9 2256.6,1671.1 C2229.7,1677.3 2204.6,1689.7 2179,1700 C2146.6,1713 2112.8,1723.6 2082.4,1740.8 C2055.4,1756 2031.3,1776 2008.2,1796.5 C1987.9,1814.5 1969.9,1835.1 1952.5,1855.8 C1937.7,1873.5 1923.9,1892 1911.7,1911.5 C1902.2,1926.7 1895.6,1943.7 1887.6,1959.7 L2021.2,2050.6 L2117.6,2047.7 L2023,1952.3 C2030.4,1935 2036.2,1916.9 2045.3,1900.4 C2058.6,1876 2072.7,1851.8 2089.8,1829.9 C2107.5,1807.1 2126.2,1784.3 2149.2,1766.8 C2173.8,1748 2201.4,1732.2 2230.8,1722.3 C2273.8,1707.7 2319.7,1703.5 2364.2,1694.1 L2362.3,1671.1Z" fill="#d60a38" stroke="#000" stroke-width="16" stroke-linecap="round" stroke-linejoin="round" />
<path d="M2319.9,1769.8 L2293.1,1841.7 L2144.7,1888.5 C2152.4,1873.9 2158.1,1858.1 2167.7,1844.7 C2179.5,1828.4 2192,1811.7 2208.5,1800.2 C2223.8,1789.5 2242.5,1784.7 2260.5,1779.8 C2279.8,1774.5 2300.1,1773.1 2319.9,1769.8Z" fill="#656364" stroke="#000" stroke-width="16" stroke-linecap="round" stroke-linejoin="round" />
<path d="M2279,1871.4 L2228.9,1973.8 L2145.5,1993.9 L2133.2,1940.4Z" fill="#656364" stroke="#000" stroke-width="16" stroke-linecap="round" stroke-linejoin="round" />
</g>
<g id="seat2">
<path d="M2126.7,1492.9 L2167.5,1518.9 L2195.4,1559.7 L2213.9,1559.7 L2264,1535.6 L2330.8,1522.6 L2353.1,1492.9 L2256.6,1467Z" fill="#b4b4b4" stroke="#000" stroke-width="16" stroke-linecap="round" stroke-linejoin="round" />
<ellipse cx="2206.5" cy="1463.3" rx="150.3" ry="51.9" transform="rotate(10 2206.5 1463.3)" fill="#b4b4b4" stroke="#000" stroke-width="16"/>
<ellipse cx="2199.1" cy="1460.3" rx="118.7" ry="32.7" transform="rotate(9 2199.1 1460.3)" fill="#7f7f7f" stroke="#000" stroke-width="16"/>
</g>
<g id="hood">
<path d="M1976.4,1481.8 C1995.6,1477.5 2014.4,1470.8 2034,1468.8 C2052.4,1467 2071.5,1466.5 2089.6,1470.7 C2106.9,1474.7 2122.8,1483.6 2137.8,1492.9 C2149,1499.9 2159.1,1508.8 2167.5,1518.9 C2177.9,1531.3 2184.8,1546.1 2193.5,1559.7 C2189.8,1564.7 2187.3,1570.9 2182.4,1574.6 C2158.6,1592.1 2132.3,1605.9 2108.2,1622.8 C2082.8,1640.6 2058.2,1659.2 2034,1678.5 C2016.1,1692.7 1999.3,1708.2 1982,1723 C1977.1,1724.2 1972.2,1725.8 1967.2,1726.7 C1952.4,1729.5 1937.7,1733.3 1922.6,1734.1 C1904.1,1735.2 1885.3,1735 1867,1732.3 C1851.7,1730 1836.9,1724.7 1822.4,1719.3 C1820,1718.4 1818.7,1715.6 1816.9,1713.7 C1822.4,1699.5 1826.4,1684.6 1833.6,1671.1 C1843.2,1652.9 1855.8,1636.4 1867,1619.1 L1976.4,1481.8Z" fill="#d2d2d4" stroke="#000" stroke-width="16" stroke-linecap="round" stroke-linejoin="round" />
</g>
<g id="bumper">
<path d="M1665.3,2111.3 L2053.1,2147.3 L2081.8,2185.9 L2345.3,2193.3 L2419.5,2174.8 L2586.5,2104.3 L2615.4,2096.8 L2708.2,2089.2 L2782.4,2055.8 L2791.7,2054 L2782.4,2113.4 L2763.8,2159.7 L2496.7,2243.2 L2441,2228.4 L2300,2237.7 L2215.4,2241.6 L2182,2260.1 L2159.7,2262 L2118.9,2237.8 L1900,2211.9 L1719.1,2182.6Z" fill="#fff" stroke="none" stroke-width="0" stroke-linecap="round" stroke-linejoin="round" />
<path d="M1719.1,2182.6 L1665.3,2111.3 L2053.1,2147.3 L2081.8,2185.9 L2345.3,2193.3 L2419.5,2174.8 L2586.5,2104.3 L2615.4,2096.8 L2708.2,2089.2 L2782.4,2055.8 L2791.7,2054 L2782.4,2113.4" fill="none" stroke="#000" stroke-width="16" stroke-linecap="round" stroke-linejoin="round" />
<path d="M1719.1,2182.6 L1900,2211.9 L2118.9,2237.8 L2159.7,2262 L2182,2260.1 L2215.4,2241.6 L2300,2237.7 L2441,2228.4 L2496.7,2243.2" fill="none" stroke="#000" stroke-width="16" stroke-linecap="round" stroke-linejoin="round" />
<path d="M2052.1,2148.8 L2081.8,2185.9" fill="none" stroke="#000" stroke-width="16" stroke-linecap="round" stroke-linejoin="round" />
<path d="M2096.7,2198.9 C2111.5,2209.4 2125.6,2221.1 2141.2,2230.4 C2153.5,2237.8 2165.8,2249.7 2180.1,2249 C2194,2248.3 2205.1,2236 2215.4,2226.7 C2224.6,2218.4 2230.2,2206.9 2237.7,2197" fill="none" stroke="#000" stroke-width="16" stroke-linecap="round" stroke-linejoin="round" />
</g>
<g id="lshelves">
<path d="M1172.4,1216 L1203.9,1216 L1213.2,1230.9 L1465.5,1217.9 L1508.2,1239.1 L1671.4,1261.3 L1716.7,1249.4 L1727.1,1252 L1717.8,1281.7 L1671.4,1280.6 L1508.2,1295.5 L1411.7,1309.6 L1172.4,1250.9Z" fill="#d60a38" stroke="#000" stroke-width="16" stroke-linecap="round" stroke-linejoin="round" />
<path d="M1185.3,1380.8 L1218,1380.8 L1227.3,1397.9 L1465.5,1378.2 L1510,1372.6 L1534.1,1368.9 L1573.1,1377.1 L1576.8,1399.4 L1626.9,1409.7 L1656.6,1432 L1593.5,1446.8 L1510,1454.3 L1411.7,1462.4 L1185.3,1415.3Z" fill="#d60a38" stroke="#000" stroke-width="16" stroke-linecap="round" stroke-linejoin="round" />
<path d="M1190.9,1535.9 L1222.4,1535.9 L1231.7,1553.7 L1465.5,1535.9 L1510,1530.3 L1562,1524.8 L1563.8,1552.6 L1626.9,1567.4 L1645.5,1600.8 L1510,1610.1 L1419.1,1618.3 L1190.9,1572.3Z" fill="#d60a38" stroke="#000" stroke-width="16" stroke-linecap="round" stroke-linejoin="round" />
<path d="M1196.5,1697.3 L1228,1697.3 L1237.3,1714.7 L1465.5,1680.6 L1510,1673.2 L1536,1669.5 L1571.2,1686.2 L1569.4,1706.6 L1656.6,1732.6 L1675.1,1715.9 L1738.2,1728.8 L1727.1,1751.1 L1510,1771.5 L1422.8,1780.8 L1196.5,1732.6Z" fill="#d60a38" stroke="#000" stroke-width="16" stroke-linecap="round" stroke-linejoin="round" />
</g>
<g id="lframe">
<path d="M1466,1195 L1701,1226 L1712,1778 L1678,1837 L1677,1258 L1503,1237 L1510,1900 L1507,1930 L1513,1956 L1522,1973 L1480,1995 L1465,2004 L1467,1970 L1470,1900Z" fill="#fff" stroke="#000" stroke-width="16" stroke-linecap="round" stroke-linejoin="round" />
<path d="M1476,1205 L1690,1234 L1697,1808" fill="none" stroke="#000" stroke-width="4" stroke-linecap="round" stroke-linejoin="round" />
</g>
<g id="tablet">
<path d="M1708.5,1582.3 L1735.3,1573 L1727.8,1597.1 L1714.1,1599.7Z" fill="#000" stroke="#000" stroke-width="16" stroke-linecap="round" stroke-linejoin="round" />
<path d="M1772.3,1313.6 Q1782.7,1305.8 1787.7,1317.9 L1844.6,1457.1 Q1849.5,1469.1 1839.1,1476.8 L1667,1604.2 Q1656.6,1612 1651.9,1599.8 L1598.1,1459 Q1593.5,1446.8 1603.9,1439.1Z" fill="#a0a0a0" stroke="#000" stroke-width="16" stroke-linejoin="round"/>
<path d="M1758,1357.1 Q1767.9,1350.4 1772.4,1361.5 L1809.8,1454.3 Q1814.3,1465.4 1804.4,1472.2 L1683.2,1555.1 Q1673.3,1561.9 1668.6,1550.8 L1629.7,1457.9 Q1625,1446.8 1635,1440.1Z" fill="#dcdcdc" stroke="none" stroke-width="0" stroke-linejoin="round"/>
</g>
<g id="rwheel">
<ellipse cx="2647" cy="2400" rx="176" ry="294" transform="rotate(12.5 2647 2400)" fill="#7f7f7f" stroke="#000" stroke-width="16"/>
<ellipse cx="2649" cy="2401" rx="118" ry="194" transform="rotate(12.5 2649 2401)" fill="#f0e432" stroke="none" stroke-width="0"/>
<ellipse cx="2647" cy="2400" rx="25" ry="40" transform="rotate(15 2647 2400)" fill="none" stroke="#000" stroke-width="16"/>
<path d="M2674.8,2266.4 L2665.6,2309.1" fill="none" stroke="#000" stroke-width="16" stroke-linecap="round" stroke-linejoin="round" />
<path d="M2580.2,2303.5 L2604.3,2338.8" fill="none" stroke="#000" stroke-width="16" stroke-linecap="round" stroke-linejoin="round" />
<path d="M2713.8,2377.7 L2747.2,2366.6" fill="none" stroke="#000" stroke-width="16" stroke-linecap="round" stroke-linejoin="round" />
<path d="M2546.8,2435.3 L2576.5,2424.1" fill="none" stroke="#000" stroke-width="16" stroke-linecap="round" stroke-linejoin="round" />
<path d="M2687.8,2459.4 L2710.1,2492.8" fill="none" stroke="#000" stroke-width="16" stroke-linecap="round" stroke-linejoin="round" />
<path d="M2622.9,2496.5 L2612,2539.1" fill="none" stroke="#000" stroke-width="16" stroke-linecap="round" stroke-linejoin="round" />
</g>
<g id="bubbles">
<path d="M163.7,126 H1372.2 A26.5,26.5 0 0 1 1398.7,152.5 V1027.3 A26.5,26.5 0 0 1 1372.2,1053.8 H1250.8 L1557.5,1430 L1039.8,1053.8 H163.7 A26.5,26.5 0 0 1 137.2,1027.3 V152.5 A26.5,26.5 0 0 1 163.7,126 Z" fill="#fff" stroke="#000" stroke-width="22" stroke-linejoin="round"/>
<path d="M2581.3,84.6 H3832.7 A30,30 0 0 1 3862.7,114.6 V1060.2 A30,30 0 0 1 3832.7,1090.2 H3072 L2348,1444 L2805,1090.2 H2581.3 A30,30 0 0 1 2551.3,1060.2 V114.6 A30,30 0 0 1 2581.3,84.6 Z" fill="#fff" stroke="#000" stroke-width="22" stroke-linejoin="round"/>
<path d="M188.3,534.3 C213.8,522.8 239.4,511.5 264.8,499.8 C303.1,482.2 340.8,463 379.6,446.3 C417.4,429.9 455.3,413.4 494.3,400.3 C531.9,387.8 570.4,378.1 609.1,369.7 C636.8,363.8 665.2,361.6 693.3,357.5 L702.9,362.1 C709.9,377.4 718.3,392.1 723.9,408 C725.4,412.2 724.5,417 723.9,421.4 C723.3,426 719.3,430.2 720.1,434.8 C722,445.5 728.1,455.1 731.6,465.4 C738.3,485.7 744.7,506.1 750.7,526.6 C757.4,549.5 764.7,572.2 769.8,595.5 C777.4,629.7 785,664 789,698.8 C789.6,704.2 786.1,709.5 783.2,714.1 C777.1,723.7 771.8,734.9 762.2,740.9 C725.8,763.4 685.7,779.1 647.4,798.3 C609.1,817.4 570.9,836.5 532.6,855.7 C494.3,874.8 456.1,893.9 417.8,913 C407.6,918.1 397.8,924.2 387.2,928.3 C379.9,931.2 372.1,934.1 364.3,934.1 C356.4,934.1 348.4,931.9 341.3,928.3 C334,924.7 327.3,919.4 322.2,913 C316.8,906.4 314,898 310.7,890.1 C305,876.3 300.4,862.1 295.4,848 C285.1,818.7 274.6,789.5 264.8,760 C254.2,728.2 244.5,696.2 234.2,664.3 C230.4,652.8 226.5,641.4 222.7,629.9 L199.7,614.6 C197.2,603.1 193.7,591.8 192.1,580.2 C189.9,565 189.5,549.6 188.3,534.3Z" fill="#a0a0a0" stroke="#000" stroke-width="15" stroke-linecap="round" stroke-linejoin="round" />
<path d="M188.3,534.3 C213.8,522.8 239.4,511.5 264.8,499.8 C303.1,482.2 340.8,463 379.6,446.3 C417.4,429.9 455.3,413.4 494.3,400.3 C531.9,387.8 570.4,378.1 609.1,369.7 C636.8,363.8 665.2,361.6 693.3,357.5 L702.9,362.1 L723.9,408 L723.9,415.7 C698.4,423.9 672.7,431.7 647.4,440.5 C608.9,454 571,468.9 532.6,482.6 C481.7,500.8 430.6,518.3 379.6,536.2 C334.3,552.1 289,568.1 243.7,584 L239.9,620.3 L232.3,624.2 L199.7,614.6 C197.2,603.1 193.7,591.8 192.1,580.2 C189.9,565 189.5,549.6 188.3,534.3Z" fill="#717071" stroke="#000" stroke-width="15" stroke-linecap="round" stroke-linejoin="round" />
<path d="M264.8,522.8 L666.5,383.1 L670.3,398.4 L266.7,540Z" fill="#8c8b8b" stroke="#000" stroke-width="14" stroke-linecap="round" stroke-linejoin="round" />
<path d="M327.9,597.4 L676.1,473 L746.9,698.8 L417.8,859.5Z" fill="#eeeeee" stroke="#000" stroke-width="15" stroke-linecap="round" stroke-linejoin="round" />
<path d="M226.5,630.7 C239.3,641.9 253.9,651.3 264.8,664.3 C279.6,681.9 291.8,701.7 303,721.7 C314.8,742.6 324.6,764.6 333.7,786.8 C343.8,811.8 351.1,837.9 360.4,863.3 C368.9,886.4 378.3,909.2 387.2,932.2" fill="none" stroke="#000" stroke-width="12" stroke-linecap="round" stroke-linejoin="round" />
<path d="M247.6,656.7 C257.1,679.7 266.7,702.6 276.3,725.6 C289,756.2 301.8,786.8 314.5,817.4 C327.3,848 338.5,879.3 352.8,909.2 C358.3,920.9 366.8,930.9 373.8,941.7" fill="none" stroke="#000" stroke-width="12" stroke-linecap="round" stroke-linejoin="round" />
<text font-size="247" font-weight="350" x="835.3" y="549.5" letter-spacing="-2.7">経路</text>
<text font-size="247" font-weight="350" x="835.3" y="862" letter-spacing="-2.7">作成</text>
<text font-size="247" font-weight="350" x="2598" y="369" letter-spacing="-2.6">直進時の</text>
<text font-size="247" font-weight="350" x="2597.5" y="680" letter-spacing="-2.6">操舵以外は</text>
<text font-size="247" font-weight="350" x="2597.5" y="990" letter-spacing="-2.6">全て手動</text>
</g>
</svg>
</body></html>
